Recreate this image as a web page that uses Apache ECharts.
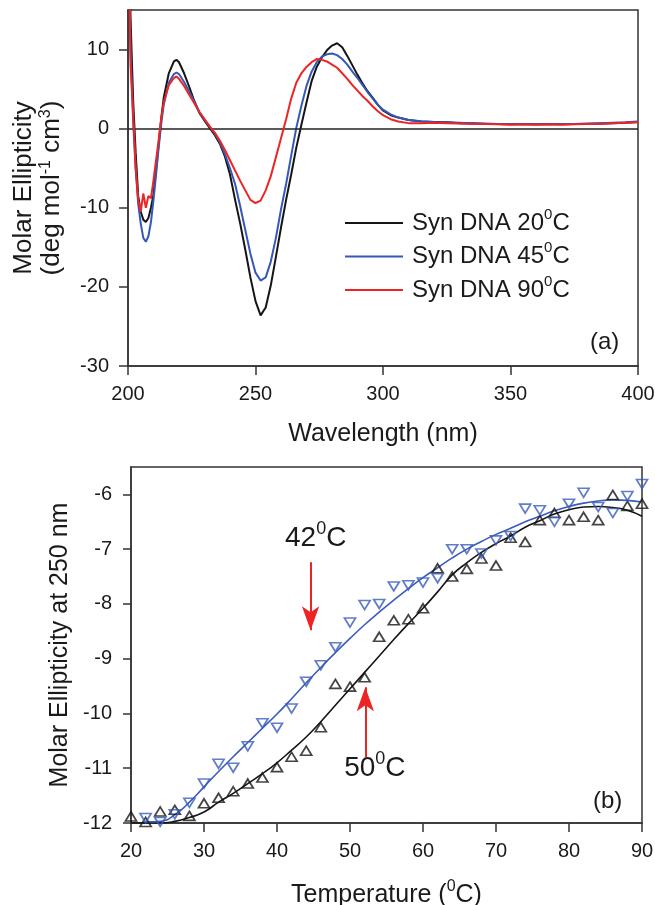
<!DOCTYPE html>
<html><head><meta charset="utf-8">
<script src="https://cdn.jsdelivr.net/npm/echarts@6/dist/echarts.min.js"></script>
<style>html,body{margin:0;padding:0;background:#fff}#c{width:655px;height:905px}</style>
</head><body><div id="c"></div>
<script>
// ---------- Panel (a): CD spectra ----------
const wavelength = [200,201,202,203,204,205,206,207,208,209,210,211,212,213,214,
  216,218,219,220,222,224,226,228,230,232,234,236,238,240,
  242,244,246,248,250,252,254,256,258,260,262,264,266,268,
  270,272,274,276,278,280,282,284,286,288,290,292,294,296,298,300,
  303,306,310,315,320,325,330,335,340,345,350,355,360,365,370,375,380,385,390,395,400];
const cd20 = [30,14,3.7,-3,-8.5,-10.5,-11.5,-11.8,-11.3,-10,-8.3,-5.2,-2,1.2,3.9,
  7,8.5,8.7,8.4,7,5.3,3.5,2.0,1.0,0.1,-0.8,-1.9,-3.5,-5.8,
  -9,-12,-15.3,-18.8,-21.8,-23.6,-22.6,-19.8,-16.2,-12.5,-9,-5.8,-2.4,0.5,
  3.3,6.0,7.8,9.0,9.9,10.5,10.8,10.3,9.2,8.0,6.8,5.7,4.7,3.9,3.0,2.3,
  1.7,1.4,1.1,0.9,0.85,0.8,0.7,0.7,0.6,0.6,0.55,0.6,0.55,0.6,0.55,0.6,0.6,0.65,0.7,0.75,0.85];
const cd45 = [30,10,1,-5,-9.5,-12,-13.8,-14.3,-13.6,-11.8,-9,-5.8,-2.5,0.5,3,
  5.8,6.9,7.1,6.9,5.9,4.7,3.4,2.1,1.1,0.3,-0.6,-1.7,-3.2,-5.0,
  -7,-9.8,-12.8,-15.8,-18.2,-19.2,-18.8,-16.8,-13.8,-10.2,-7.0,-3.4,0.1,2.9,
  5.4,7.2,8.4,9.1,9.4,9.5,9.3,8.8,8.1,7.2,6.4,5.5,4.6,3.8,3.0,2.4,
  1.8,1.4,1.1,0.95,0.85,0.8,0.75,0.7,0.65,0.6,0.6,0.55,0.6,0.55,0.6,0.6,0.65,0.7,0.75,0.8,0.9];
const cd90 = [30,8,2,-5,-9,-10.5,-8.2,-10,-8.5,-8.8,-6.5,-4,-1.5,1.2,3.3,
  5.5,6.4,6.6,6.3,5.4,4.3,3.2,2.1,1.2,0.3,-0.5,-1.5,-2.7,-4.0,
  -5.3,-6.6,-7.8,-9.0,-9.4,-9.1,-7.8,-6.0,-3.6,-1.2,1.2,3.8,5.8,7.0,
  7.8,8.4,8.8,8.7,8.5,8.1,7.7,7.0,6.3,5.5,4.8,4.1,3.5,2.8,2.2,1.7,
  1.2,0.9,0.7,0.7,0.75,0.7,0.65,0.6,0.6,0.55,0.5,0.55,0.5,0.55,0.5,0.55,0.6,0.6,0.7,0.75,0.8];
const seriesNamesA = ['Syn DNA 20\u2070C','Syn DNA 45\u2070C','Syn DNA 90\u2070C'];
const yTicksA = [-30,-20,-10,0,10];

// ---------- Panel (b): melting ----------
const tempBlack = [20,22,24,26,28,30,32,34,36,38,40,42,44,46,48,50,52,54,56,58,60,62,64,66,68,70,72,74,76,78,80,82,84,86,88,90];
const ellipBlack = [-11.88,-11.98,-11.79,-11.76,-11.87,-11.64,-11.54,-11.42,-11.28,-11.17,-10.98,-10.79,-10.68,-10.25,-9.46,-9.51,-9.34,-8.6,-8.3,-8.28,-8.08,-7.35,-7.5,-7.36,-7.17,-7.3,-6.79,-6.87,-6.47,-6.34,-6.47,-6.41,-6.47,-6.01,-6.21,-6.17];
const fitBlack = [-12.0,-12.0,-12.0,-11.97,-11.9,-11.8,-11.62,-11.46,-11.28,-11.1,-10.9,-10.67,-10.43,-10.15,-9.85,-9.55,-9.25,-8.95,-8.65,-8.36,-8.08,-7.78,-7.47,-7.25,-7.06,-6.9,-6.76,-6.6,-6.48,-6.36,-6.28,-6.23,-6.22,-6.24,-6.29,-6.4];
const tempBlue = [22,24,26,28,30,32,34,36,38,40,42,44,46,48,50,52,54,56,58,60,62,64,66,68,70,72,74,76,78,80,82,84,86,88,90];
const ellipBlue = [-11.91,-11.98,-11.84,-11.63,-11.28,-10.92,-10.99,-10.6,-10.18,-10.26,-9.91,-9.42,-9.12,-8.79,-8.34,-8.02,-8.0,-7.68,-7.66,-7.61,-7.53,-7.0,-7.0,-7.08,-6.84,-6.76,-6.26,-6.29,-6.5,-6.17,-5.97,-6.23,-6.34,-6.03,-5.81];
const fitBlue = [-11.98,-11.97,-11.85,-11.62,-11.34,-11.06,-10.79,-10.53,-10.27,-10.01,-9.73,-9.44,-9.16,-8.89,-8.63,-8.38,-8.15,-7.93,-7.72,-7.52,-7.34,-7.16,-7.0,-6.86,-6.73,-6.62,-6.5,-6.4,-6.3,-6.22,-6.16,-6.12,-6.1,-6.11,-6.14];
const yTicksB = [-12,-11,-10,-9,-8,-7,-6];
const arrow42 = {x: 44.6, from: -7.24, to: -8.48};
const arrow50 = {x: 52.1, from: -10.8, to: -9.52};
const label42 = {x: 45.3, y: -6.8, text: ['42','0','C']};
const label50 = {x: 53.4, y: -11.0, text: ['50','0','C']};

const FONT = '"Liberation Sans", Arial, sans-serif';
const TXT = '#1a1a1a';
const BLACK = '#151515', BLUE = '#3558b8', RED = '#ee2424', BLUEB = '#3a5cbc';
const zip = (xs, ys) => xs.map((x, i) => [x, ys[i]]);
const supRich = (fs, lh) => ({
  a: {fontSize: fs, lineHeight: lh, fontFamily: FONT, color: TXT},
  a0: {fontSize: fs, lineHeight: lh, fontFamily: FONT, color: TXT, padding: [0,0,0,4]},
  s: {fontSize: Math.round(fs*0.64), lineHeight: Math.round(fs*0.64), verticalAlign: 'top', fontFamily: FONT, color: TXT}
});

const chart = echarts.init(document.getElementById('c'));
const axisCommon = {
  axisLine: {show: true, onZero: false, lineStyle: {color: '#333', width: 1.5}},
  axisTick: {show: true, inside: false, length: 9, lineStyle: {color: '#333', width: 1.5}},
  splitLine: {show: false},
  axisLabel: {color: TXT, fontSize: 20, fontFamily: FONT, margin: 18}
};

chart.setOption({
  animation: false,
  backgroundColor: '#fff',
  grid: [
    {left: 128, top: 10, width: 510, height: 356, show: true, borderColor: '#333', borderWidth: 1.5, outerBoundsMode: 'none', containLabel: false},
    {left: 131, top: 467, width: 511, height: 356, show: true, borderColor: '#333', borderWidth: 1.5, outerBoundsMode: 'none', containLabel: false}
  ],
  legend: {
    data: seriesNamesA,
    orient: 'vertical', left: 340, top: 202, itemGap: 5.5,
    itemWidth: 58, itemHeight: 2, icon: 'rect',
    formatter: n => '{a0|' + n.split('\u2070')[0] + '}{s|0}{a|C}',
    textStyle: {fontSize: 24, fontFamily: FONT, color: TXT, rich: supRich(24, 32)}
  },
  xAxis: [
    Object.assign({}, axisCommon, {
      gridIndex: 0, type: 'value', min: 200, max: 400, interval: 50,
      name: 'Wavelength (nm)', nameLocation: 'middle', nameGap: 56,
      nameTextStyle: {fontSize: 25, fontFamily: FONT, color: TXT}
    }),
    Object.assign({}, axisCommon, {
      gridIndex: 1, type: 'value', min: 20, max: 90, interval: 10,
      name: 'Temperature ({s|0}C)', nameLocation: 'middle', nameGap: 56,
      nameTextStyle: {fontSize: 25, lineHeight: 32, fontFamily: FONT, color: TXT, rich: {s: supRich(25,32).s}}
    })
  ],
  yAxis: [
    Object.assign({}, axisCommon, {
      gridIndex: 0, type: 'value', min: -30, max: 15, interval: 10,
      axisTick: Object.assign({}, axisCommon.axisTick, {customValues: yTicksA}),
      axisLabel: Object.assign({}, axisCommon.axisLabel, {customValues: yTicksA, margin: 19}),
      name: '{t|Molar Ellipticity}\n{t|(deg mol}{s|-1}{t| cm}{s|3}{t|)}',
      nameLocation: 'middle', nameGap: 62,
      nameTextStyle: {fontSize: 26, lineHeight: 28, fontFamily: FONT, color: TXT,
        rich: {t: {fontSize: 26, lineHeight: 28, fontFamily: FONT, color: TXT},
               s: {fontSize: 16, lineHeight: 16, verticalAlign: 'top', fontFamily: FONT, color: TXT}}}
    }),
    Object.assign({}, axisCommon, {
      gridIndex: 1, type: 'value', min: -12, max: -5.5, interval: 1,
      axisTick: Object.assign({}, axisCommon.axisTick, {customValues: yTicksB, length: 8}),
      axisLabel: Object.assign({}, axisCommon.axisLabel, {customValues: yTicksB, margin: 19}),
      name: 'Molar Ellipticity at 250 nm', nameLocation: 'middle', nameGap: 58,
      nameTextStyle: {fontSize: 25, fontFamily: FONT, color: TXT}
    })
  ],
  series: [
    {name: seriesNamesA[0], type: 'line', xAxisIndex: 0, yAxisIndex: 0, data: zip(wavelength, cd20),
     symbol: 'none', lineStyle: {color: BLACK, width: 2}, itemStyle: {color: BLACK}, z: 3,
     markLine: {silent: true, symbol: ['none','none'], label: {show: false},
       lineStyle: {color: '#222', width: 1.5, type: 'solid'}, data: [{yAxis: 0}]}},
    {name: seriesNamesA[1], type: 'line', xAxisIndex: 0, yAxisIndex: 0, data: zip(wavelength, cd45),
     symbol: 'none', lineStyle: {color: BLUE, width: 2}, itemStyle: {color: BLUE}, z: 4},
    {name: seriesNamesA[2], type: 'line', xAxisIndex: 0, yAxisIndex: 0, data: zip(wavelength, cd90),
     symbol: 'none', lineStyle: {color: RED, width: 2}, itemStyle: {color: RED}, z: 5},

    {name: 'fit20', type: 'line', xAxisIndex: 1, yAxisIndex: 1, data: zip(tempBlack, fitBlack),
     symbol: 'none', smooth: true, lineStyle: {color: BLACK, width: 1.6}},
    {name: 'fitBlue', type: 'line', xAxisIndex: 1, yAxisIndex: 1, data: zip(tempBlue, fitBlue),
     symbol: 'none', smooth: true, lineStyle: {color: BLUEB, width: 1.6}},
    {name: 'ptsBlack', type: 'scatter', xAxisIndex: 1, yAxisIndex: 1, data: zip(tempBlack, ellipBlack),
     symbol: 'triangle', symbolSize: [11, 9],
     itemStyle: {color: 'rgba(0,0,0,0)', borderColor: BLACK, borderWidth: 1.7}, z: 4},
    {name: 'ptsBlue', type: 'scatter', xAxisIndex: 1, yAxisIndex: 1, data: zip(tempBlue, ellipBlue),
     symbol: 'triangle', symbolRotate: 180, symbolSize: [11, 9],
     itemStyle: {color: 'rgba(0,0,0,0)', borderColor: BLUEB, borderWidth: 1.7}, z: 4,
     markLine: {silent: true, symbol: ['none', 'arrow'], symbolSize: [13, 24],
       label: {show: false}, lineStyle: {color: RED, width: 2, type: 'solid'},
       data: [
         [{coord: [arrow42.x, arrow42.from]}, {coord: [arrow42.x, arrow42.to]}],
         [{coord: [arrow50.x, arrow50.from]}, {coord: [arrow50.x, arrow50.to]}]
       ]},
     markPoint: {silent: true, symbol: 'rect', symbolSize: 1,
       itemStyle: {color: 'rgba(0,0,0,0)'},
       label: {show: true, position: 'inside', color: TXT,
         formatter: p => '{a|' + p.data.t[0] + '}{s|' + p.data.t[1] + '}{a|' + p.data.t[2] + '}',
         rich: supRich(28, 36)},
       data: [
         {coord: [label42.x, label42.y], t: label42.text},
         {coord: [label50.x, label50.y], t: label50.text}
       ]}}
  ],
  graphic: [
    {type: 'text', left: 590, top: 330, style: {text: '(a)', fontSize: 24, fontFamily: FONT, fill: TXT}},
    {type: 'text', left: 593, top: 789, style: {text: '(b)', fontSize: 24, fontFamily: FONT, fill: TXT}}
  ]
});
</script></body></html>
